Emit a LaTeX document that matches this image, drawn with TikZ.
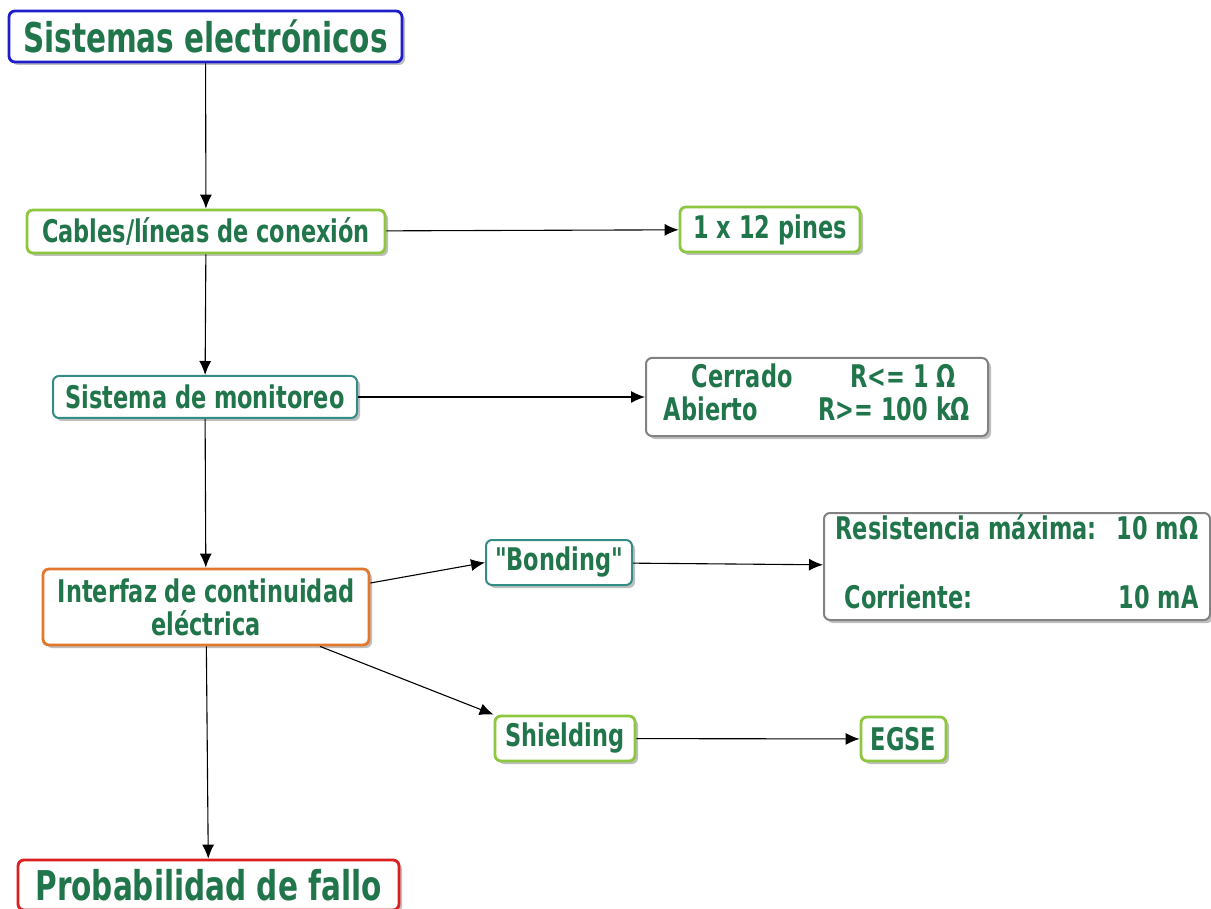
\documentclass[tikz,border=0pt]{standalone}
\usepackage{fontspec}
\setmainfont{DejaVu Sans}[FakeStretch=0.72,Ligatures=TeXOff]
\usetikzlibrary{arrows.meta,shadows}

\definecolor{txtgreen}{RGB}{33,117,74}
\definecolor{bordblue}{RGB}{30,30,200}
\definecolor{bordlime}{RGB}{141,198,63}
\definecolor{bordteal}{RGB}{52,140,135}
\definecolor{bordgray}{RGB}{130,130,130}
\definecolor{bordorange}{RGB}{226,120,45}
\definecolor{bordred}{RGB}{220,30,30}

\newcommand*{\bigsize}{\fontsize{20.5pt}{24pt}\selectfont}
\newcommand*{\midsize}{\fontsize{15.6pt}{16.5pt}\selectfont}

\begin{document}
\begin{tikzpicture}
[
	x=0.5pt, y=-0.5pt,
	box/.style={draw,rounded corners=3pt,line width=1.4pt,fill=white,text=txtgreen,
		font=\midsize\bfseries,align=center,inner sep=0pt,
		drop shadow={shadow xshift=1.5pt,shadow yshift=-1.5pt,opacity=0.25,fill=black}},
	bluebox/.style={box,draw=bordblue,font=\bigsize\bfseries},
	limebox/.style={box,draw=bordlime},
	tealbox/.style={box,draw=bordteal,line width=1pt},
	graybox/.style={box,draw=bordgray,line width=1pt},
	orangebox/.style={box,draw=bordorange},
	redbox/.style={box,draw=bordred,font=\bigsize\bfseries},
	conn/.style={-{Latex[length=7pt,width=6pt]},line width=0.55pt}
]

	\useasboundingbox (0,0) rectangle (1211,909);

	% main column
	\node[bluebox,minimum width=196.5pt,minimum height=25.5pt] (sis) at (205.5,36.5) {Sistemas electrónicos};
	\node[limebox,minimum width=179pt,minimum height=21.5pt] (cab) at (206,231.5) {Cables/líneas de conexión};
	\node[tealbox,minimum width=152pt,minimum height=21pt] (mon) at (205,397) {Sistema de monitoreo};
	\node[orangebox,minimum width=163pt,minimum height=38pt] (int) at (206,607) {Interfaz de continuidad\\eléctrica};
	\node[redbox,minimum width=190.5pt,minimum height=25pt] (prob) at (208.5,885) {Probabilidad de fallo};

	% side boxes
	\node[limebox,minimum width=90pt,minimum height=22.5pt] (pines) at (770,229.5) {1 x 12 pines};
	\node[graybox,minimum width=171pt,minimum height=39pt] (est) at (817,397)
	{\begin{tabular}{@{}l@{\hspace{13pt}}l@{}}
		\hspace{14pt}Cerrado & \hspace{16pt}R<= 1 Ω \\
		Abierto & R>= 100 kΩ
	\end{tabular}};
	\node[tealbox,minimum width=73pt,minimum height=22.5pt] (bon) at (559,562.5) {"Bonding"};
	\node[graybox,minimum width=193pt,minimum height=53.5pt] (res) at (1017,566.5)
	{\begin{tabular}{@{}l@{\hspace{10pt}}r@{}}
		Resistencia máxima: & 10 mΩ \\[17.5pt]
		\hspace{4.5pt}Corriente: & 10 mA
	\end{tabular}};
	\node[limebox,minimum width=70pt,minimum height=22.5pt] (shi) at (565,738.5) {Shielding};
	\node[limebox,minimum width=42.5pt,minimum height=22pt] (egse) at (903.5,739) {EGSE};

	% connectors
	\foreach \a/\b in {sis/cab,cab/mon,mon/int,int/prob,cab/pines,mon/est,bon/res,shi/egse} {
		\draw[conn] (\a) -- (\b);
	}
	\draw[conn] ([yshift=12pt]int.east) -- (bon.west);
	\draw[conn] ([xshift=57pt]int.south) -- (shi.north west);

\end{tikzpicture}
\end{document}
